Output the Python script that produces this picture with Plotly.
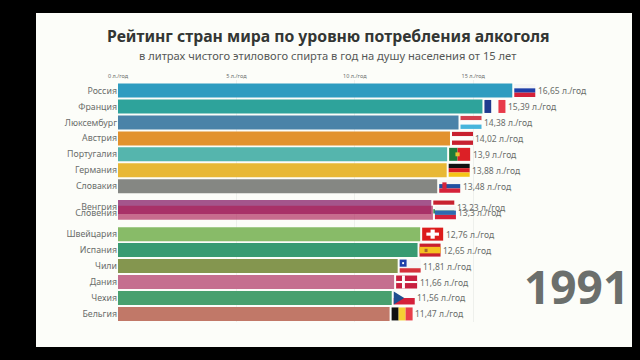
import plotly.graph_objects as go

countries = ["Россия", "Франция", "Люксембург", "Австрия", "Португалия", "Германия", "Словакия",
             "Венгрия", "Словения", "Швейцария", "Испания", "Чили", "Дания", "Чехия", "Бельгия"]
values = [16.65, 15.39, 14.38, 14.02, 13.9, 13.88, 13.48, 13.23, 13.3, 12.76, 12.65, 11.81, 11.66, 11.56, 11.47]
ranks = [1, 2, 3, 4, 5, 6, 7, 8.3, 8.66, 10, 11, 12, 13, 14, 15]
bar_colors = ["#2e9cc0", "#2ea39b", "#4a83a8", "#e2922e", "#55b5ad", "#e8b835", "#858783",
              "#a4558c", "rgba(170,30,85,0.65)", "#88bb68", "#389b72", "#84964f", "#c56f8f", "#48a06e", "#c17868"]
flags = ["ru", "fr", "lu", "at", "pt", "de", "sk", "hu", "si", "ch", "es", "cl", "dk", "cz", "be"]
x_ticks = [0, 5, 10, 15]
x_tick_labels = ["0 л./год", "5 л./год", "10 л./год", "15 л./год"]
title = "Рейтинг стран мира по уровню потребления алкоголя"
subtitle = "в литрах чистого этилового спирта в год на душу населения от 15 лет"
year = "1991"

STRIPES_H = {"ru": ["#f4f4f4", "#1f3fa8", "#d5213a"], "lu": ["#d2404e", "#fdfdfb", "#48b5dc"],
             "at": ["#c8202f", "#fdfdfb", "#c8202f"], "de": ["#111111", "#d81f26", "#f5c518"],
             "sk": ["#f4f4f4", "#1f4ea0", "#d5213a"], "hu": ["#c8202f", "#fdfdfb", "#3a8a5a"],
             "si": ["#f4f4f4", "#2f6ab0", "#d5213a"], "cl": ["#f4f4f4", "#f4f4f4", "#d5313a"]}
STRIPES_V = {"fr": ["#1f3a8f", "#fdfdfb", "#e83a4a"], "be": ["#111111", "#f5d033", "#e8404a"]}
W, H = 21, 13


def box(anchor_x, anchor_y, x0, x1, y0, y1, color):
    """Flag part placed in pixels relative to a bar end; fractions are of the flag box, from its top-left."""
    return dict(type="rect", xref="x", yref="y", xsizemode="pixel", ysizemode="pixel",
                xanchor=anchor_x, yanchor=anchor_y,
                x0=2 + x0 * W, x1=2 + x1 * W, y0=H / 2 - y0 * H, y1=H / 2 - y1 * H,
                fillcolor=color, line_width=0, layer="above")


def flag_shapes(code, v, r):
    out = []
    if code in STRIPES_H:
        for i, c in enumerate(STRIPES_H[code]):
            out.append(box(v, r, 0, 1, i / 3, (i + 1) / 3, c))
    if code in STRIPES_V:
        for i, c in enumerate(STRIPES_V[code]):
            out.append(box(v, r, i / 3, (i + 1) / 3, 0, 1, c))
    if code == "pt":
        out += [box(v, r, 0, .4, 0, 1, "#1f7a3a"), box(v, r, .4, 1, 0, 1, "#dc2026"),
                box(v, r, .3, .5, .35, .65, "#e8c430")]
    if code == "ch":
        out += [box(v, r, 0, 1, 0, 1, "#dc1c1c"), box(v, r, .4, .6, .15, .85, "#ffffff"),
                box(v, r, .2, .8, .38, .62, "#ffffff")]
    if code == "es":
        out += [box(v, r, 0, 1, 0, 1, "#c8202f"), box(v, r, 0, 1, .25, .75, "#f5c020"),
                box(v, r, .24, .38, .4, .65, "#a8642a")]
    if code == "dk":
        out += [box(v, r, 0, 1, 0, 1, "#c8203f"), box(v, r, .28, .42, 0, 1, "#fdfdfb"),
                box(v, r, 0, 1, .42, .58, "#fdfdfb")]
    if code == "cz":
        out += [box(v, r, 0, 1, 0, .5, "#fdfdfb"), box(v, r, 0, 1, .5, 1, "#d5213a"),
                dict(type="path", xref="x", yref="y", xsizemode="pixel", ysizemode="pixel",
                     xanchor=v, yanchor=r, layer="above", line_width=0, fillcolor="#1f4f8f",
                     path=f"M 2 {H/2} L {2 + W*.5} 0 L 2 {-H/2} Z")]
    if code == "cl":
        out.append(box(v, r, 0, .33, 0, .55, "#1f3fa8"))
        out.append(box(v, r, .12, .21, .2, .35, "#ffffff"))
    if code == "sk":
        out.append(box(v, r, .15, .35, .2, .7, "#d5213a"))
    return out


fig = go.Figure(go.Bar(y=ranks, x=values, orientation="h", width=0.877,
                       marker=dict(color=bar_colors, line_width=0), showlegend=False))

shapes = [dict(type="rect", xref="paper", yref="paper", x0=-82 / 514, x1=1, y0=-25 / 242, y1=1 + 67 / 242,
               fillcolor="#fcfdf9", line_width=0, layer="below")]
for f, v, r in zip(flags, values, ranks):
    shapes += flag_shapes(f, v, r)

annotations = [dict(x=v, y=r, xref="x", yref="y", xanchor="left", yanchor="middle", xshift=23.5, showarrow=False,
                    text=f"{v:g}".replace(".", ",") + " л./год",
                    font=dict(family="Noto Sans", size=8.5, color="#6a6d6b"))
               for v, r in zip(values, ranks)]
annotations += [
    dict(xref="paper", yref="paper", x=(328 - 118) / 514, y=1 + 44 / 242, xanchor="center", yanchor="middle",
         showarrow=False, text=f"<b>{title}</b>", font=dict(family="Noto Sans", size=15.75, color="#333634")),
    dict(xref="paper", yref="paper", x=(328 - 118) / 514, y=1 + 25 / 242, xanchor="center", yanchor="middle",
         showarrow=False, text=subtitle, font=dict(family="Noto Sans", size=11.15, color="#555856")),
    dict(xref="paper", yref="paper", x=(631 - 118) / 514, y=(322 - 286) / 242, xanchor="right", yanchor="middle",
         showarrow=False, text=f"<b>{year}</b>", font=dict(family="Noto Sans", size=46, color="#6b6f6c")),
]

fig.update_layout(
    width=640, height=360, autosize=False,
    margin=dict(l=118, r=8, t=80, b=38),
    paper_bgcolor="#000000", plot_bgcolor="rgba(0,0,0,0)",
    shapes=shapes, annotations=annotations,
    xaxis=dict(range=[0, 514 / 23.68], side="top", tickvals=x_ticks, ticktext=x_tick_labels, zeroline=False,
               showgrid=True, gridcolor="#eef0ec", gridwidth=1, ticks="", showline=False,
               tickfont=dict(family="Noto Sans", size=5.5, color="#6a6d6b")),
    yaxis=dict(range=[15.505, 0.342], tickvals=ranks, ticktext=countries, zeroline=False, showgrid=False,
               ticks="", showline=False, tickfont=dict(family="Noto Sans", size=8.8, color="#6a6d6b")),
)
fig.write_html("out.html", config={"displayModeBar": False},
               post_script="document.body.style.margin='0';document.body.style.background='#000';document.documentElement.style.overflow='hidden';")
